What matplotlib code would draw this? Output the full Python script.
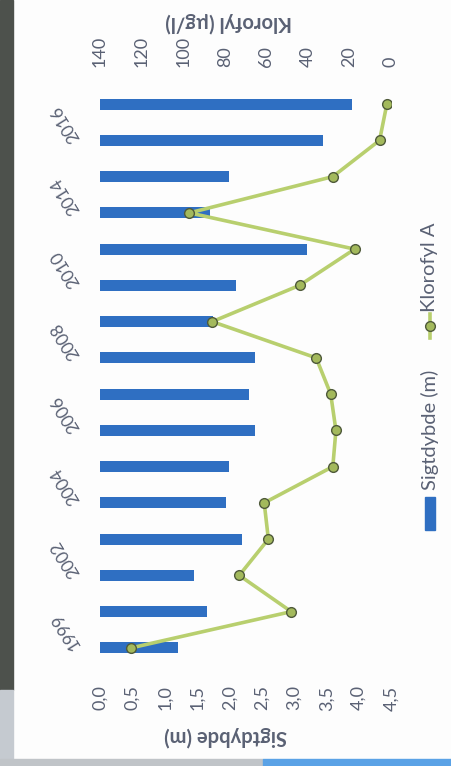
import matplotlib
matplotlib.use("Agg")
import matplotlib.pyplot as plt
from matplotlib.patches import Rectangle
from matplotlib.lines import Line2D

years = [1999, 2000, 2002, 2003, 2004, 2005, 2006, 2007,
         2008, 2009, 2010, 2012, 2014, 2015, 2016, 2017]
sigtdybde = [1.2, 1.65, 1.45, 2.2, 1.95, 2.0, 2.4, 2.3,
             2.4, 1.75, 2.1, 3.2, 1.7, 2.0, 3.45, 3.9]
klorofyl = [125, 48, 73, 59, 61, 28, 26.5, 29,
            36, 86, 44, 17.5, 97, 28, 5.5, 2]

sigt_ticks = [0.0, 0.5, 1.0, 1.5, 2.0, 2.5, 3.0, 3.5, 4.0, 4.5]
klor_ticks = [0, 20, 40, 60, 80, 100, 120, 140]

BAR = "#2f6fc2"
LINE = "#b8cf6e"
TXT = "#5a6174"
W, H = 452, 766

plt.rcParams["font.family"] = ["Lato", "DejaVu Sans"]

fig = plt.figure(figsize=(W / 100, H / 100), dpi=100, facecolor="#fdfdfd")


def fx(px):
    return px / W


def fy(py):
    return 1 - py / H


# page edges from the photo
fig.patches.append(Rectangle((0, fy(690)), fx(13), 1 - fy(690), transform=fig.transFigure,
                             color="#4d514c", zorder=0))
fig.patches.append(Rectangle((0, 0), fx(13), fy(690), transform=fig.transFigure,
                             color="#c5cad0", zorder=0))
fig.patches.append(Rectangle((0, 0), fx(263), 7 / H, transform=fig.transFigure,
                             color="#c0c4c8", zorder=0))
fig.patches.append(Rectangle((fx(263), 0), 1 - fx(263), 7 / H, transform=fig.transFigure,
                             color="#5aa2e6", zorder=0))

ax = fig.add_axes([fx(100), fy(666), fx(291), (666 - 86) / H])
ax.set_facecolor("none")
pos = list(range(len(years)))
ax.barh(pos, sigtdybde, height=0.3, color=BAR, zorder=2)
ax.set_xlim(0, 4.5)
ax.set_ylim(-0.5, len(years) - 0.5)
ax.set_xticks(sigt_ticks)
ax.set_xticklabels([f"{t:.1f}".replace(".", ",") for t in sigt_ticks],
                   rotation=90, color=TXT, fontsize=13)
ax.set_yticks(pos[::2])
ax.set_yticklabels([str(y) for y in years[::2]], color=TXT, fontsize=12.5)
ax.tick_params(axis="x", length=0, pad=14)
ax.tick_params(axis="y", length=0, pad=17, labelrotation=122)
for lbl in ax.get_yticklabels():
    lbl.set_rotation(122)
    lbl.set_rotation_mode("anchor")
    lbl.set_ha("left")
    lbl.set_va("center")
for s in ax.spines.values():
    s.set_visible(False)

ax2 = ax.twiny()
ax2.plot(klorofyl, pos, color=LINE, lw=2.6, marker="o", ms=7,
         mfc="#a3b95c", mec="#4f5a3a", mew=1.0, zorder=3)
ax2.set_xlim(140, 0)
ax2.set_xticks(klor_ticks)
ax2.set_xticklabels([str(t) for t in klor_ticks], rotation=90, color=TXT, fontsize=13)
ax2.tick_params(axis="x", length=0, pad=14)
for s in ax2.spines.values():
    s.set_visible(False)

# axis titles
fig.text(fx(229), fy(22), "Klorofyl (µg/l)", rotation=180, ha="center", va="center",
         color=TXT, fontsize=14.5, fontweight="bold")
fig.text(fx(226), fy(736), "Sigtdybde (m)", rotation=180, ha="center", va="center",
         color=TXT, fontsize=14.5, fontweight="bold")

# legend, drawn sideways
fig.patches.append(Rectangle((fx(425), fy(530)), fx(10), 33 / H, transform=fig.transFigure,
                             color=BAR))
fig.text(fx(430), fy(430), "Sigtdybde (m)", rotation=90, ha="center", va="center",
         color=TXT, fontsize=14.5)
fig.lines.append(Line2D([fx(430), fx(430)], [fy(338), fy(314)], transform=fig.transFigure,
                        color=LINE, lw=2.6))
fig.lines.append(Line2D([fx(430)], [fy(326)], transform=fig.transFigure, marker="o", ms=7,
                        mfc="#a3b95c", mec="#4f5a3a", mew=1.0, ls="none"))
fig.text(fx(430), fy(267), "Klorofyl A", rotation=90, ha="center", va="center",
         color=TXT, fontsize=14.5)

fig.savefig("out.png", dpi=100, facecolor=fig.get_facecolor())
